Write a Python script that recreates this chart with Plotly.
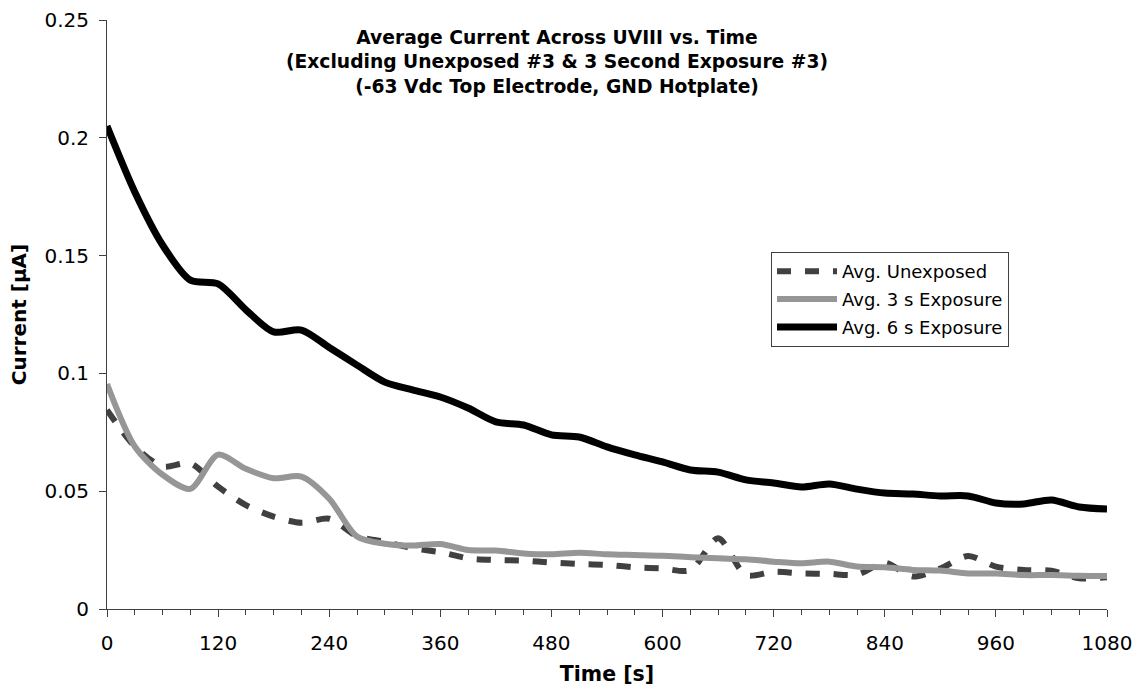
import plotly.graph_objects as go

time_s = [0, 30, 60, 90, 120, 150, 180, 210, 240, 270, 300, 330, 360, 390, 420, 450,
          480, 510, 540, 570, 600, 630, 660, 690, 720, 750, 780, 810, 840, 870, 900,
          930, 960, 990, 1020, 1050, 1080]

avg_unexposed = [0.0845, 0.069, 0.0605, 0.0618, 0.0519, 0.0441, 0.0392, 0.0366, 0.0383,
                 0.031, 0.0285, 0.0258, 0.0241, 0.0215, 0.0208, 0.0205, 0.0197, 0.0191,
                 0.0187, 0.0177, 0.0172, 0.0165, 0.030, 0.0144, 0.0158, 0.0151, 0.0149,
                 0.0146, 0.0196, 0.0138, 0.0172, 0.0225, 0.018, 0.0166, 0.0162, 0.013,
                 0.0135]

avg_3s = [0.0955, 0.069, 0.057, 0.051, 0.0655, 0.0595, 0.0555, 0.0562, 0.0468, 0.0308,
          0.0277, 0.0269, 0.0276, 0.025, 0.0248, 0.0236, 0.0232, 0.0239, 0.0232, 0.0229,
          0.0226, 0.022, 0.0215, 0.0211, 0.0201, 0.0194, 0.0201, 0.018, 0.0177, 0.0166,
          0.0163, 0.0151, 0.0151, 0.0144, 0.0144, 0.0141, 0.014]

avg_6s = [0.205, 0.177, 0.1545, 0.1396, 0.138, 0.127, 0.1176, 0.1184, 0.111, 0.1035,
          0.0963, 0.093, 0.090, 0.0853, 0.0794, 0.0781, 0.0739, 0.073, 0.0688, 0.0654,
          0.0624, 0.059, 0.0581, 0.0548, 0.0535, 0.0518, 0.0531, 0.0509, 0.0492, 0.0488,
          0.048, 0.048, 0.045, 0.0446, 0.0463, 0.0433, 0.0424]

series_names = ["Avg. Unexposed", "Avg. 3 s Exposure", "Avg. 6 s Exposure"]
title_lines = ["Average Current Across UVIII vs. Time",
               "(Excluding Unexposed #3 & 3 Second Exposure #3)",
               "(-63 Vdc Top Electrode, GND Hotplate)"]
x_ticks = [0, 120, 240, 360, 480, 600, 720, 840, 960, 1080]
y_ticks = [0, 0.05, 0.1, 0.15, 0.2, 0.25]
y_ticktext = ["0", "0.05", "0.1", "0.15", "0.2", "0.25"]

FONT = "DejaVu Sans, Verdana, sans-serif"
AXIS_COLOR = "#404040"

fig = go.Figure()
fig.add_trace(go.Scatter(x=time_s, y=avg_unexposed, name=series_names[0], mode="lines",
                         legendgroup="a",
                         line=dict(color="#404040", width=6, dash="14px,14px",
                                   shape="spline", smoothing=0.8)))
fig.add_trace(go.Scatter(x=time_s, y=avg_3s, name=series_names[1], mode="lines",
                         legendgroup="b",
                         line=dict(color="#969696", width=6, shape="spline", smoothing=0.8)))
fig.add_trace(go.Scatter(x=time_s, y=avg_6s, name=series_names[2], mode="lines",
                         legendgroup="c",
                         line=dict(color="#000000", width=7, shape="spline", smoothing=0.8)))

fig.update_layout(
    width=1145, height=690,
    margin=dict(l=107, r=38, t=20, b=81, autoexpand=False),
    paper_bgcolor="white", plot_bgcolor="white",
    font=dict(family=FONT, color="black", size=18),
    title=dict(text="<b>" + "<br>".join(title_lines) + "</b>",
               xref="container", yref="container", x=557 / 1145, xanchor="center",
               y=1 - 44 / 690, yanchor="top",
               font=dict(family=FONT, size=18.7, color="black")),
    showlegend=True,
    legend=dict(x=0.664, y=(609 - 252) / 589, xanchor="left", yanchor="top",
                bgcolor="white", bordercolor=AXIS_COLOR, borderwidth=1,
                font=dict(family=FONT, size=18, color="black"),
                itemwidth=60, tracegroupgap=1.5, traceorder="grouped"),
    xaxis=dict(range=[0, 1080], tickvals=x_ticks, ticks="outside", ticklen=7,
               tickcolor=AXIS_COLOR, tickwidth=1, ticklabelstandoff=9, automargin=False,
               minor=dict(dtick=30, ticks="outside", ticklen=5, tickcolor=AXIS_COLOR),
               showline=True, linecolor=AXIS_COLOR, linewidth=1, showgrid=False,
               zeroline=False, tickfont=dict(family=FONT, size=20, color="black"),
               title=dict(text="<b>Time [s]</b>", font=dict(family=FONT, size=20.5, color="black"),
                          standoff=12)),
    yaxis=dict(range=[0, 0.25], tickvals=y_ticks, ticktext=y_ticktext,
               ticks="outside", ticklen=7, tickcolor=AXIS_COLOR, tickwidth=1,
               ticklabelstandoff=6, automargin=False,
               showline=True, linecolor=AXIS_COLOR, linewidth=1, showgrid=False,
               zeroline=False, tickfont=dict(family=FONT, size=20, color="black"),
               title=dict(text="<b>Current [µA]</b>", font=dict(family=FONT, size=20, color="black"),
                          standoff=12)),
)

fig.write_html("out.html")
